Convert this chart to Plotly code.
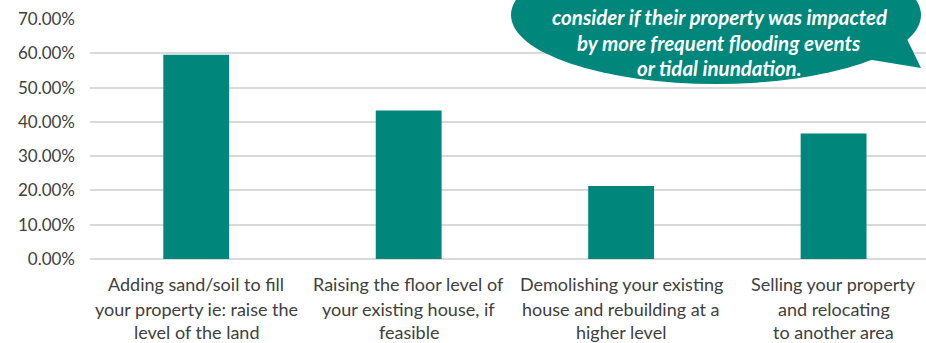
import plotly.graph_objects as go

# ---- data ----
categories = [
    "Adding sand/soil to fill your property ie: raise the level of the land",
    "Raising the floor level of your existing house, if feasible",
    "Demolishing your existing house and rebuilding at a higher level",
    "Selling your property and relocating to another area",
]
label_lines = [
    ["Adding sand/soil to fill", "your property ie: raise the", "level of the land"],
    ["Raising the floor level of", "your existing house, if", "feasible"],
    ["Demolishing your existing", "house and rebuilding at a", "higher level"],
    ["Selling your property", "and relocating", "to another area"],
]
values = [0.596, 0.433, 0.213, 0.366]
y_tick_values = [0.0, 0.1, 0.2, 0.3, 0.4, 0.5, 0.6, 0.7]
bubble_lines = [
    "consider if their property was impacted",
    "by more frequent flooding events",
    "or tidal inundation.",
]

TEAL = "#00867A"
TEXT = "#404040"
GRID = "#d9d9d9"
FONT = "Lato, 'Noto Sans', sans-serif"

W, H = 926, 343
ML, MR, MT, MB = 90, 0, 19, 84
PW, PH = W - ML - MR, H - MT - MB


def px(x):
    return (x - ML) / PW


def py(y):
    return (H - MB - y) / PH


fig = go.Figure()
fig.add_trace(go.Bar(x=categories, y=values, marker=dict(color=TEAL, line=dict(width=0))))

annotations = []
line_y = [284, 309, 332]
for cat, lines in zip(categories, label_lines):
    for ly, txt in zip(line_y, lines):
        annotations.append(dict(
            x=cat, xref="x", y=0, yref="paper", yshift=-(ly - (H - MB)),
            text=txt, showarrow=False, xanchor="center", yanchor="middle",
            font=dict(family=FONT, size=18, color=TEXT),
        ))

bubble_y = [17, 43, 68]
for by, txt in zip(bubble_y, bubble_lines):
    annotations.append(dict(
        x=px(719), xref="paper", y=py(by), yref="paper",
        text="<b><i>" + txt + "</i></b>", showarrow=False,
        xanchor="center", yanchor="middle",
        font=dict(family=FONT, size=20.5, color="white"),
    ))

shapes = [
    dict(type="circle", xref="paper", yref="paper",
         x0=px(511), x1=px(921), y0=py(84), y1=py(-54),
         fillcolor=TEAL, line=dict(width=0), layer="above"),
    dict(type="path", xref="paper", yref="paper",
         path=f"M {px(860)} {py(58)} L {px(921)} {py(68)} L {px(905)} {py(35)} Z",
         fillcolor=TEAL, line=dict(width=0), layer="above"),
]

fig.update_layout(
    width=W, height=H,
    margin=dict(l=ML, r=MR, t=MT, b=MB, pad=0),
    paper_bgcolor="white", plot_bgcolor="white",
    bargap=0.69,
    showlegend=False,
    font=dict(family=FONT, size=17, color=TEXT),
    xaxis=dict(range=[-0.5, 3.435], showticklabels=False, showgrid=False,
               showline=False, zeroline=False, fixedrange=True),
    yaxis=dict(range=[0, 0.7], tickvals=y_tick_values, tickformat=".2%",
               showgrid=True, gridcolor=GRID, gridwidth=1.5,
               zeroline=True, zerolinecolor=GRID, zerolinewidth=1.5,
               showline=False, ticklabelstandoff=14,
               tickfont=dict(family=FONT, size=17, color=TEXT)),
    annotations=annotations,
    shapes=shapes,
)

fig.write_html(
    "out.html",
    config={"displayModeBar": False},
    post_script="document.body.style.margin='0';document.body.style.overflow='hidden';",
)
